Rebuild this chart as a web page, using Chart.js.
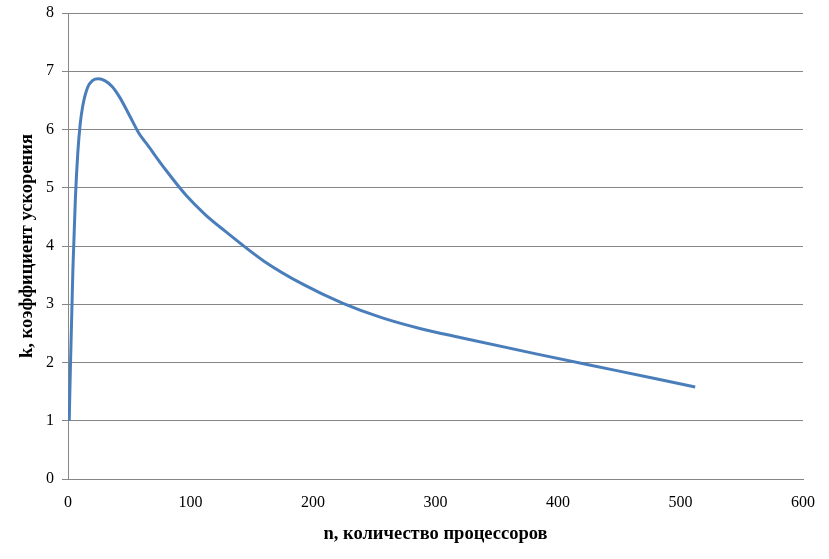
<!DOCTYPE html>
<html>
<head>
<meta charset="utf-8">
<script src="https://cdn.jsdelivr.net/npm/chart.js@4"></script>
<style>
  html, body { margin: 0; padding: 0; background: #fff; }
  #wrap { width: 829px; height: 559px; }
</style>
</head>
<body>
<div id="wrap"><canvas id="chart"></canvas></div>
<script>
// количество процессоров
const nValues = [1, 2, 4, 6, 8, 10, 12, 16, 20, 25, 30, 36, 42, 50, 58, 64, 80, 96, 112, 128, 160, 192, 224, 256, 288, 320, 384, 448, 512];
// коэффициент ускорения
const kValues = [1, 1.95, 3.6, 4.8, 5.6, 6.1, 6.4, 6.72, 6.84, 6.87, 6.84, 6.74, 6.56, 6.25, 5.93, 5.76, 5.3, 4.88, 4.54, 4.26, 3.74, 3.34, 3.02, 2.77, 2.58, 2.43, 2.14, 1.86, 1.58];

const xTicks = [0, 100, 200, 300, 400, 500, 600];
const yTicks = [0, 1, 2, 3, 4, 5, 6, 7, 8];

const points = nValues.map((n, i) => ({ x: n, y: kValues[i] }));
const serif = "'Liberation Serif', 'Times New Roman', serif";

new Chart(document.getElementById("chart"), {
    type: "line",
    data: {
        datasets: [{
            data: points,
            borderColor: "#4a7ebb",
            borderWidth: 3,
            pointRadius: 0,
            fill: false,
            cubicInterpolationMode: "monotone",
        }],
    },
    options: {
        responsive: true,
        maintainAspectRatio: false,
        animation: false,
        layout: { padding: { top: 13, right: 26, bottom: 0, left: 0 } },
        plugins: { legend: { display: false }, tooltip: { enabled: false } },
        scales: {
            x: {
                type: "linear",
                min: 0,
                max: 600,
                afterBuildTicks: (s) => { s.ticks = xTicks.map(v => ({ value: v })); },
                afterFit: (s) => { s.height = 80; },
                grid: { display: false, drawTicks: false },
                border: { color: "#868686", width: 1 },
                ticks: { color: "#000", font: { family: serif, size: 16 }, padding: 14, maxRotation: 0 },
                title: {
                    display: true,
                    text: "n, количество процессоров",
                    color: "#000",
                    font: { family: serif, size: 18.5, weight: "bold" },
                    padding: { top: 0, bottom: 14 },
                },
            },
            y: {
                min: 0,
                max: 8,
                afterBuildTicks: (s) => { s.ticks = yTicks.map(v => ({ value: v })); },
                afterFit: (s) => { s.width = 68; s.paddingTop = 0; s.paddingBottom = 0; },
                grid: { color: "#868686", lineWidth: 1, tickLength: 6 },
                border: { color: "#868686", width: 1 },
                ticks: { color: "#000", font: { family: serif, size: 16 }, padding: 8 },
                title: {
                    display: true,
                    text: "k, коэффициент ускорения",
                    color: "#000",
                    font: { family: serif, size: 18.5, weight: "bold" },
                    padding: { top: 16, bottom: 0 },
                },
            },
        },
    },
});
</script>
</body>
</html>
